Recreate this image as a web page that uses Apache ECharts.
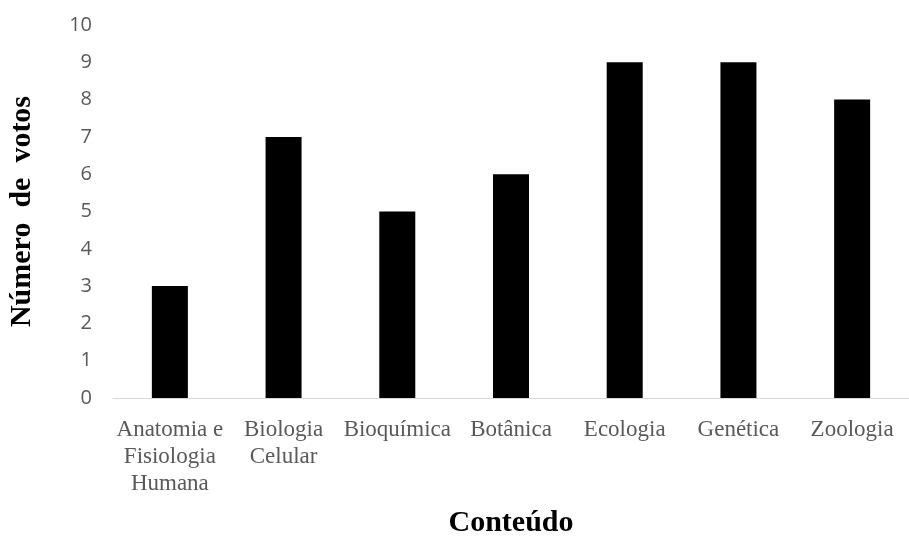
<!DOCTYPE html>
<html><head><meta charset="utf-8">
<script src="https://cdn.jsdelivr.net/npm/echarts@6/dist/echarts.min.js"></script>
<style>html,body{margin:0;padding:0;background:#fff}#c{width:909px;height:536px}</style>
</head><body><div id="c"></div>
<script>
const categories = ["Anatomia e\nFisiologia\nHumana", "Biologia\nCelular", "Bioquímica", "Botânica", "Ecologia", "Genética", "Zoologia"];
const votos = [3, 7, 5, 6, 9, 9, 8];
const yTicks = {min: 0, max: 10, interval: 1};

const chart = echarts.init(document.getElementById('c'), null, {renderer: 'canvas'});
chart.setOption({
  animation: false,
  backgroundColor: '#fff',
  grid: {left: 113, right: 0, top: 25, bottom: 138, containLabel: false, outerBoundsMode: 'none'},
  xAxis: {
    type: 'category',
    data: categories,
    name: 'Conteúdo',
    nameLocation: 'middle',
    nameGap: 110,
    nameTextStyle: {fontFamily: 'Liberation Serif', fontWeight: 'bold', fontSize: 30, color: '#000'},
    axisLine: {show: true, lineStyle: {color: '#d9d9d9', width: 1}},
    axisTick: {show: false},
    axisLabel: {interval: 0, fontFamily: 'Liberation Serif', fontSize: 23, color: '#595959', lineHeight: 27, margin: 18}
  },
  yAxis: {
    type: 'value',
    min: yTicks.min, max: yTicks.max, interval: yTicks.interval,
    name: 'Número  de  votos',
    nameLocation: 'middle',
    nameGap: 76,
    nameRotate: 90,
    nameTextStyle: {fontFamily: 'Liberation Serif', fontWeight: 'bold', fontSize: 30, color: '#000'},
    axisLine: {show: false},
    axisTick: {show: false},
    splitLine: {show: false},
    axisLabel: {fontFamily: 'Open Sans', fontSize: 20, color: '#595959', margin: 21}
  },
  series: [{
    type: 'bar',
    data: votos,
    barWidth: 36,
    itemStyle: {color: '#000'}
  }]
});
</script></body></html>
